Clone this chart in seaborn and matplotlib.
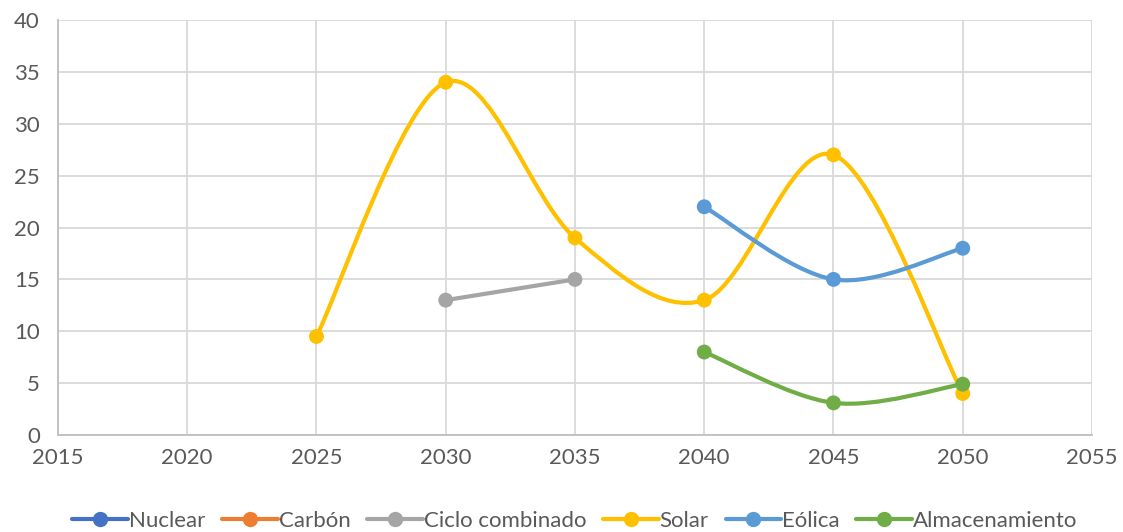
import matplotlib
matplotlib.use("Agg")
import matplotlib.pyplot as plt
from matplotlib.path import Path
from matplotlib.patches import PathPatch
from matplotlib.lines import Line2D
import numpy as np
import pandas as pd
import seaborn as sns

# ---------------- data ----------------
series_names = ["Nuclear", "Carbón", "Ciclo combinado", "Solar", "Eólica", "Almacenamiento"]
series_colors = ["#4472C4", "#ED7D31", "#A5A5A5", "#FFC000", "#5B9BD5", "#70AD47"]

nuclear_x, nuclear_y = [], []
carbon_x, carbon_y = [], []
ciclo_x = [2030, 2035]
ciclo_y = [13, 15]
solar_x = [2025, 2030, 2035, 2040, 2045, 2050]
solar_y = [9.5, 34, 19, 13, 27, 4]
eolica_x = [2040, 2045, 2050]
eolica_y = [22, 15, 18]
almac_x = [2040, 2045, 2050]
almac_y = [8, 3.1, 4.9]

xs = [nuclear_x, carbon_x, ciclo_x, solar_x, eolica_x, almac_x]
ys = [nuclear_y, carbon_y, ciclo_y, solar_y, eolica_y, almac_y]

rows = []
for name, x, y in zip(series_names, xs, ys):
    for a, b in zip(x, y):
        rows.append({"serie": name, "año": a, "valor": b})
df = pd.DataFrame(rows)

x_ticks = list(range(2015, 2056, 5))
y_ticks = list(range(0, 41, 5))

# ---------------- style ----------------
sns.set_theme(style="white")
plt.rcParams["font.family"] = ["Lato", "DejaVu Sans"]

fig = plt.figure(figsize=(11.23, 5.32), dpi=100)
ax = fig.add_axes([0.0516, 0.1823, 0.9208, 0.7801])


def smooth_path(x, y):
    # Excel-like smoothed line: cubic bezier with catmull-rom style handles
    pts = np.column_stack([x, y]).astype(float)
    n = len(pts)
    verts = [pts[0]]
    codes = [Path.MOVETO]
    for i in range(n - 1):
        p0 = pts[i - 1] if i > 0 else pts[i]
        p1 = pts[i]
        p2 = pts[i + 1]
        p3 = pts[i + 2] if i + 2 < n else pts[i + 1]
        c1 = p1 + (p2 - p0) / 6.0
        c2 = p2 - (p3 - p1) / 6.0
        verts += [c1, c2, p2]
        codes += [Path.CURVE4] * 3
    return Path(verts, codes)


widths = {"Ciclo combinado": 3.0}
palette = dict(zip(series_names, series_colors))

for name, x, y in zip(series_names, xs, ys):
    if len(x) < 2:
        continue
    if name == "Ciclo combinado":
        path = Path(np.column_stack([x, y]))
    else:
        path = smooth_path(x, y)
    patch = PathPatch(path, facecolor="none", edgecolor=palette[name],
                      linewidth=widths.get(name, 3.0), capstyle="round", zorder=2)
    ax.add_patch(patch)

sns.scatterplot(data=df, x="año", y="valor", hue="serie", palette=palette,
                hue_order=series_names, s=115, linewidth=0, ax=ax,
                legend=False, zorder=3)

ax.set_xlim(2015, 2055)
ax.set_ylim(0, 40)
ax.set_xticks(x_ticks)
ax.set_yticks(y_ticks)
ax.set_xlabel("")
ax.set_ylabel("")
ax.grid(True, color="#D9D9D9", linewidth=1.3)
ax.set_axisbelow(True)
for side in ["top", "right"]:
    ax.spines[side].set_visible(False)
for side in ["left", "bottom"]:
    ax.spines[side].set_color("#BFBFBF")
    ax.spines[side].set_linewidth(1.3)
ax.tick_params(axis="both", length=0, labelsize=16, labelcolor="#595959")
ax.tick_params(axis="x", pad=9)
ax.tick_params(axis="y", pad=13)

handles = [Line2D([0], [0], color=c, linewidth=3, marker="o", markersize=10)
           for c in series_colors]
ax.legend(handles, series_names, loc="upper center", bbox_to_anchor=(0.5, -0.135),
          ncol=6, frameon=False, fontsize=16, labelcolor="#595959",
          handlelength=2.5, handletextpad=0.05, columnspacing=0.75)

fig.savefig("out.png", dpi=100)
